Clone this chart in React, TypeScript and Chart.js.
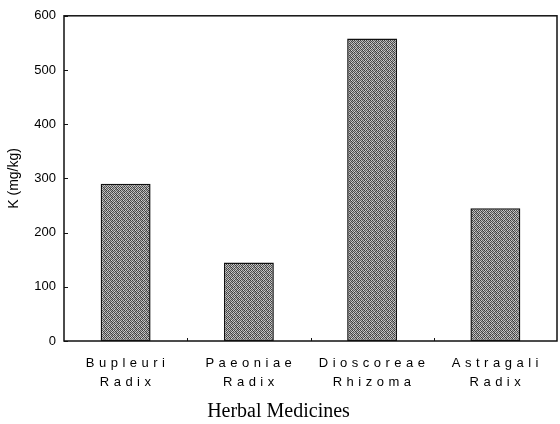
import React, { useEffect, useRef } from 'react';
import { Chart, registerables, CategoryScale } from 'chart.js';

Chart.register(...registerables);

class SpacedCategoryScale extends CategoryScale {
  static id = 'spacedCategory';
  static defaults = (CategoryScale as any).defaults;
  drawLabels(chartArea: any) {
    const ctx = (this as any).ctx;
    ctx.save();
    ctx.letterSpacing = '4.5px';
    ctx.translate(2, 0);
    super.drawLabels(chartArea);
    ctx.restore();
  }
}
Chart.register(SpacedCategoryScale as any);

// ---- data ----
const categories: string[][] = [
  ['Bupleuri', 'Radix'],
  ['Paeoniae', 'Radix'],
  ['Dioscoreae', 'Rhizoma'],
  ['Astragali', 'Radix'],
];
const kValues: number[] = [290, 145, 558, 245];
const yMin = 0;
const yMax = 600;
const yStep = 100;
const yAxisTitle = 'K (mg/kg)';
const xAxisTitle = 'Herbal Medicines';

// fixed texture matrix (grey levels) for the halftone-like bar fill
const texture: number[][] = [
  [70, 200, 90, 180, 60, 210],
  [190, 60, 160, 90, 200, 80],
  [100, 180, 60, 215, 80, 170],
  [210, 80, 150, 60, 190, 90],
  [60, 190, 100, 170, 60, 200],
  [170, 90, 200, 70, 160, 80],
];

function makePattern(): CanvasPattern | string {
  const c = document.createElement('canvas');
  c.width = texture[0].length;
  c.height = texture.length;
  const cx = c.getContext('2d');
  if (!cx) return '#8a8a8a';
  const img = cx.createImageData(c.width, c.height);
  for (let r = 0; r < c.height; r++) {
    for (let k = 0; k < c.width; k++) {
      const v = texture[r][k];
      const i = (r * c.width + k) * 4;
      img.data[i] = v;
      img.data[i + 1] = v;
      img.data[i + 2] = v;
      img.data[i + 3] = 255;
    }
  }
  cx.putImageData(img, 0, 0);
  return cx.createPattern(c, 'repeat') || '#8a8a8a';
}

const framePlugin = {
  id: 'frameTicks',
  afterDraw(chart: any) {
    const { ctx, chartArea } = chart;
    const { left, top, right, bottom } = chartArea;
    const x = chart.scales.x;
    const y = chart.scales.y;
    ctx.save();
    ctx.strokeStyle = '#111';
    ctx.lineWidth = 1.5;
    ctx.strokeRect(left, top, right - left, bottom - top);
    ctx.lineWidth = 1;
    ctx.beginPath();
    y.ticks.forEach((t: any) => {
      const py = Math.round(y.getPixelForValue(t.value)) + 0.5;
      ctx.moveTo(left, py);
      ctx.lineTo(left + 4, py);
    });
    for (let i = 1; i < categories.length; i++) {
      const px = Math.round((x.getPixelForValue(i - 1) + x.getPixelForValue(i)) / 2) + 0.5;
      ctx.moveTo(px, bottom);
      ctx.lineTo(px, bottom - 3);
    }
    ctx.stroke();
    ctx.restore();
  },
};

export default function App() {
  const ref = useRef<HTMLCanvasElement | null>(null);

  useEffect(() => {
    if (!ref.current) return;
    const pattern = makePattern();
    const chart = new Chart(ref.current, {
      type: 'bar',
      data: {
        labels: categories as any,
        datasets: [
          {
            data: kValues,
            backgroundColor: pattern as any,
            borderColor: '#111',
            borderWidth: 1.5,
            borderSkipped: false,
            categoryPercentage: 1,
            barPercentage: 0.405,
          },
        ],
      },
      options: {
        animation: false,
        responsive: false,
        maintainAspectRatio: false,
        layout: { padding: { top: 14, right: 3, left: 0, bottom: 0 } },
        plugins: {
          legend: { display: false },
          tooltip: { enabled: false },
          title: {
            display: true,
            position: 'bottom',
            text: xAxisTitle,
            color: '#000',
            font: { family: 'Liberation Serif', size: 20, weight: 'normal' },
            padding: { top: 13, bottom: 0 },
          },
        },
        scales: {
          x: {
            type: 'spacedCategory' as any,
            grid: { display: false, drawTicks: false },
            border: { display: false },
            ticks: {
              color: '#000',
              font: { family: 'Liberation Sans', size: 13, lineHeight: 1.45 },
              padding: 13,
              maxRotation: 0,
              autoSkip: false,
            },
            afterFit(scale: any) {
              scale.height = 46;
            },
          } as any,
          y: {
            min: yMin,
            max: yMax,
            grid: { display: false, drawTicks: false },
            border: { display: false },
            ticks: {
              stepSize: yStep,
              color: '#000',
              font: { family: 'Liberation Sans', size: 13 },
              padding: 8,
            },
            title: {
              display: true,
              text: yAxisTitle,
              color: '#000',
              font: { family: 'Liberation Sans', size: 14 },
              padding: { top: 6, bottom: 0 },
            },
            afterFit(scale: any) {
              scale.width = 64;
            },
          },
        },
      },
      plugins: [framePlugin],
    });
    return () => chart.destroy();
  }, []);

  return (
    <div style={{ position: 'fixed', left: 0, top: 0, width: 560, height: 424, background: '#fff' }}>
      <canvas ref={ref} width={560} height={424} style={{ width: 560, height: 424 }} />
    </div>
  );
}
